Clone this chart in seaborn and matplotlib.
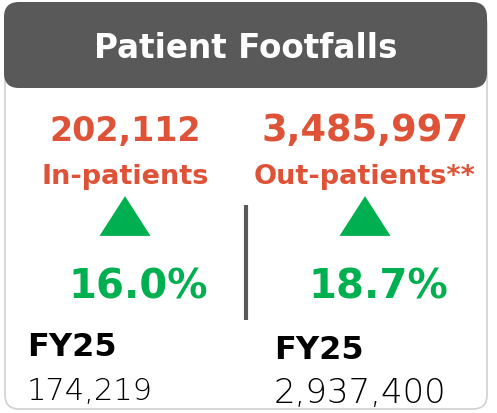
import matplotlib.pyplot as plt
import matplotlib.patches as patches
from matplotlib.path import Path
import seaborn as sns
import pandas as pd

# data
title = "Patient Footfalls"
categories = ["In-patients", "Out-patients**"]
current_values = ["202,112", "3,485,997"]
growth_pct = [16.0, 18.7]
prev_label = "FY25"
prev_values = ["174,219", "2,937,400"]

RED = "#DE5337"
GREEN = "#00B050"
DARK = "#595959"

sns.set_theme(style="white")
plt.rcParams['font.family'] = ["DejaVu Sans"]

fig = plt.figure(figsize=(4.97, 4.14), dpi=100)
ax = fig.add_axes([0, 0, 1, 1])

# card outline and header
card = patches.FancyBboxPatch((5, 12), 482, 398, boxstyle="round,pad=0,rounding_size=14",
                              facecolor="white", edgecolor="#D0D0D0", linewidth=1.2)
ax.add_patch(card)
header = patches.FancyBboxPatch((4, 3), 483, 86, boxstyle="round,pad=0,rounding_size=15",
                                facecolor=DARK, edgecolor="none")
ax.add_patch(header)
ax.text(246, 58, title, ha='center', va='baseline', color='white',
        fontsize=23.5, fontweight='bold')

# divider
ax.plot([245.5, 245.5], [206, 321], color=DARK, linewidth=3, solid_capstyle='butt')

centers = [125, 365]
pct_centers = [138, 378]
prev_left = [27, 274]

df = pd.DataFrame({'x': centers, 'y': [217, 217], 'cat': categories})
tri = Path([(-1, -0.78), (1, -0.78), (0, 0.78), (-1, -0.78)],
           [Path.MOVETO, Path.LINETO, Path.LINETO, Path.CLOSEPOLY])
sns.scatterplot(data=df, x='x', y='y', marker=tri, s=1350, color=GREEN,
                edgecolor='none', linewidth=0, ax=ax, legend=False)
ax.set_xlim(0, 497)
ax.set_ylim(414, 0)
ax.axis('off')

value_sizes = [24, 26.5]
for i in range(2):
    ax.text(centers[i], 141, current_values[i], ha='center', va='baseline',
            color=RED, fontsize=value_sizes[i], fontweight='bold')
    ax.text(centers[i], 184, categories[i], ha='center', va='baseline',
            color=RED, fontsize=19.5, fontweight='bold')
    ax.text(pct_centers[i], 299, f"{growth_pct[i]:.1f}%", ha='center', va='baseline',
            color=GREEN, fontsize=29, fontweight='bold')

prev_sizes = [22, 24.5]
ax.text(prev_left[0], 356, prev_label, ha='left', va='baseline', color='black',
        fontsize=23, fontweight='bold')
ax.text(prev_left[0], 400, prev_values[0], ha='left', va='baseline', color='black',
        fontsize=prev_sizes[0], fontweight='light')
ax.text(prev_left[1], 359, prev_label, ha='left', va='baseline', color='black',
        fontsize=23, fontweight='bold')
ax.text(prev_left[1], 403, prev_values[1], ha='left', va='baseline', color='black',
        fontsize=prev_sizes[1], fontweight='light')

fig.savefig("out.png", dpi=100)
